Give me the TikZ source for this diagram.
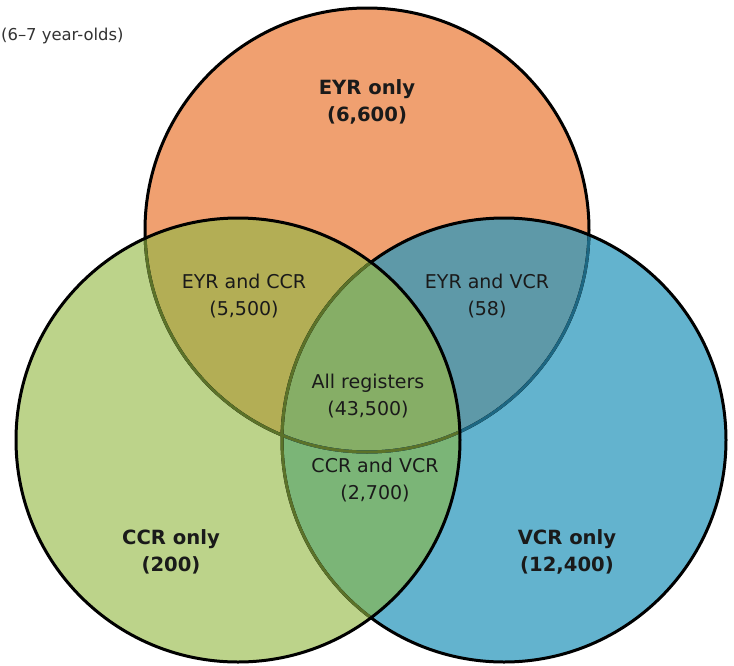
\documentclass[tikz,border=0pt]{standalone}
\usepackage{fontspec}
\setmainfont{DejaVu Sans}
\definecolor{cOr}{HTML}{F0A070}
\definecolor{cGr}{HTML}{BCD38A}
\definecolor{cBl}{HTML}{63B3CE}
\definecolor{cOG}{HTML}{B3AE55}
\definecolor{cOB}{HTML}{5E99A8}
\definecolor{cGB}{HTML}{7BB577}
\definecolor{cAll}{HTML}{86AE66}
\definecolor{lnG}{HTML}{5B7229}
\definecolor{lnB}{HTML}{1D6782}
\definecolor{txt}{HTML}{1A1A1A}
\begin{document}
\begin{tikzpicture}[x=1pt,y=-1pt,
  lab/.style={align=center,text=txt,font=\fontsize{19}{27}\selectfont,inner sep=0pt},
  blab/.style={align=center,text=txt,font=\fontsize{19.6}{27}\selectfont\bfseries,inner sep=0pt},
  ring/.style={line width=3pt}]
\useasboundingbox (0,0) rectangle (734,665);
\clip (0,0) rectangle (734,665);
\def\cO{(367,230) circle[radius=222pt]}
\def\cG{(238,440) circle[radius=222pt]}
\def\cB{(504,440) circle[radius=222pt]}
\fill[white] (0,0) rectangle (734,665);
% single fills
\fill[cOr] \cO;
\fill[cBl] \cB;
\fill[cGr] \cG;
% pairwise
\begin{scope}\clip \cO; \fill[cOG] \cG; \fill[cOB] \cB; \end{scope}
\begin{scope}\clip \cG; \fill[cGB] \cB; \end{scope}
\begin{scope}\clip \cO; \clip \cG; \fill[cAll] \cB; \end{scope}
% outlines
\draw[ring,black] \cO;
\begin{scope}\clip \cB; \draw[ring,lnB] \cO; \end{scope}
\draw[ring,black] \cB;
\begin{scope}\clip \cG; \draw[ring,lnG] \cO; \draw[ring,lnG] \cB; \end{scope}
\draw[ring,black] \cG;
% labels
\node[anchor=west,text=black!80,font=\fontsize{16.4}{18}\selectfont,inner sep=0pt] (title) at (1,36) {(6–7 year-olds)};
\node[blab] (eyr) at (367,102) {EYR only\\(6,600)};
\node[lab] (eyrccr) at (244,296) {EYR and CCR\\(5,500)};
\node[lab] (eyrvcr) at (487,296) {EYR and VCR\\(58)};
\node[lab] (all) at (368,396) {All registers\\(43,500)};
\node[lab] (ccrvcr) at (375,480) {CCR and VCR\\(2,700)};
\node[blab] (ccr) at (171,552) {CCR only\\(200)};
\node[blab] (vcr) at (567,552) {VCR only\\(12,400)};
\end{tikzpicture}
\end{document}
